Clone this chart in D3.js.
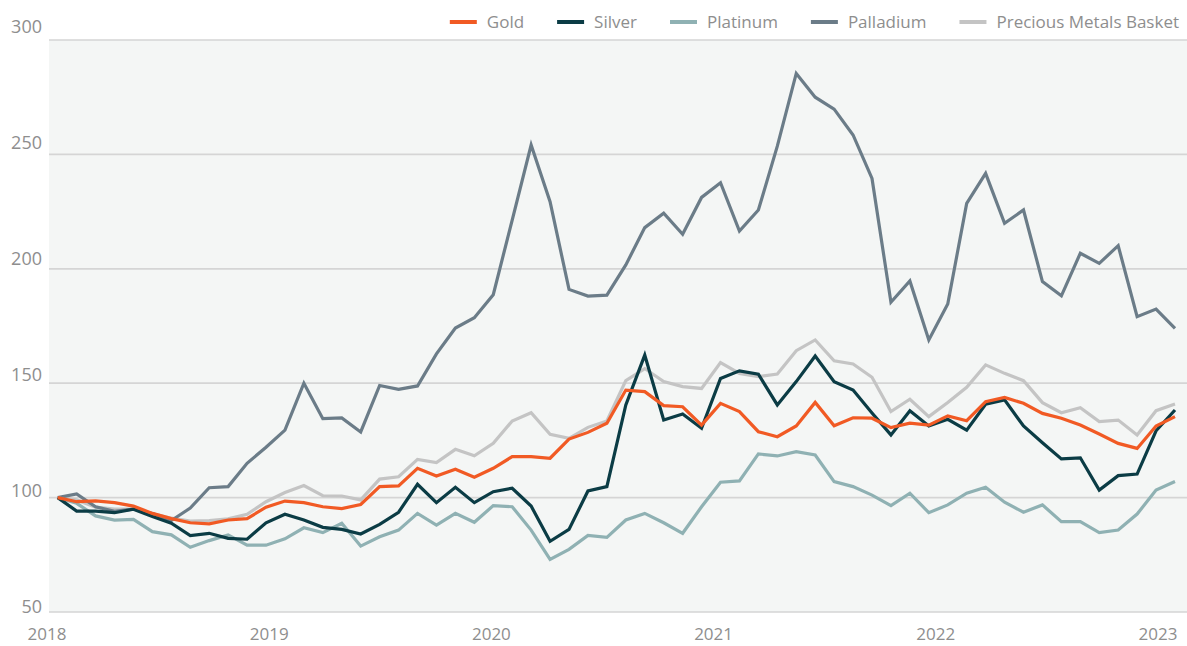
<!DOCTYPE html>
<html>
<head>
<meta charset="utf-8">
<script src="https://cdn.jsdelivr.net/npm/d3@7"></script>
<style>
  html, body { margin: 0; padding: 0; background: #ffffff; }
  svg { display: block; }
  text { font-family: "Open Sans", "Lato", sans-serif; fill: #8e8e8e; }
</style>
</head>
<body>
<svg id="chart" width="1187" height="646"></svg>
<script>
// ---- data ----
const seriesNames = ["Gold", "Silver", "Platinum", "Palladium", "Precious Metals Basket"];
const yearLabels = ["2018", "2019", "2020", "2021", "2022", "2023"];
const yTicks = [50, 100, 150, 200, 250, 300];

const gold = [100, 98.2, 98.6, 97.8, 96.3, 93.1, 90.8, 89.0, 88.5, 90.2, 90.8, 95.8, 98.5, 97.8, 96.0, 95.2, 97.0, 104.8, 105.1, 112.8, 109.4, 112.4, 108.9, 112.8, 117.9, 117.9, 117.2, 125.6, 128.5, 132.5, 147.0, 146.3, 140.2, 139.7, 131.7, 141.2, 137.6, 128.8, 126.6, 131.3, 141.6, 131.4, 134.9, 134.7, 130.6, 132.5, 131.7, 135.7, 133.6, 141.9, 143.8, 141.2, 136.8, 134.7, 131.7, 127.8, 123.7, 121.5, 131.3, 135.4];
const silver = [100, 94.1, 94.1, 93.4, 94.9, 91.7, 88.8, 83.4, 84.4, 82.2, 81.8, 89.0, 92.7, 90.2, 87.0, 86.1, 84.1, 88.3, 93.6, 105.8, 97.8, 104.5, 97.8, 102.6, 104.1, 96.3, 80.9, 86.1, 102.9, 104.8, 140.5, 162.3, 133.9, 136.5, 130.3, 152.1, 155.4, 153.9, 140.5, 150.7, 161.9, 150.7, 147.0, 137.0, 127.4, 138.0, 131.3, 134.2, 129.5, 140.8, 142.7, 131.3, 124.0, 116.9, 117.4, 103.3, 109.6, 110.3, 129.2, 138.3];
const platinum = [100, 97.5, 92.0, 90.2, 90.5, 85.1, 83.7, 78.3, 81.2, 83.7, 79.2, 79.2, 82.0, 86.8, 84.7, 88.8, 78.8, 82.9, 85.8, 93.1, 88.0, 93.1, 89.2, 96.5, 96.0, 85.8, 73.0, 77.4, 83.5, 82.6, 90.2, 93.1, 89.0, 84.4, 96.0, 106.7, 107.3, 119.1, 118.2, 120.1, 118.6, 107.0, 104.8, 101.1, 96.5, 101.9, 93.4, 96.8, 101.9, 104.5, 98.0, 93.6, 96.8, 89.5, 89.5, 84.7, 85.8, 92.8, 103.3, 107.0];
const palladium = [100, 101.6, 96.0, 94.0, 95.0, 93.0, 90.0, 95.4, 104.3, 104.8, 115.0, 122.0, 129.5, 150.0, 134.5, 134.8, 128.7, 149.0, 147.3, 148.8, 162.8, 174.1, 178.6, 188.7, 221.3, 254.1, 229.3, 191.0, 188.1, 188.5, 201.7, 218.0, 224.3, 215.1, 231.2, 237.6, 216.5, 225.7, 253.6, 285.4, 275.0, 269.8, 258.5, 239.5, 185.4, 194.7, 168.9, 184.6, 228.6, 241.7, 219.9, 225.7, 194.4, 188.2, 206.8, 202.4, 210.1, 179.1, 182.4, 174.0];
const basket = [100, 99.0, 95.8, 95.0, 95.0, 93.0, 91.0, 89.7, 90.0, 90.7, 92.7, 98.2, 102.2, 105.3, 100.8, 100.7, 99.0, 108.1, 109.1, 116.7, 115.3, 121.1, 118.3, 123.7, 133.5, 137.1, 127.7, 125.9, 130.7, 133.5, 151.1, 156.4, 150.7, 148.5, 147.7, 159.0, 154.3, 152.9, 154.0, 164.2, 168.9, 159.8, 158.4, 152.6, 137.6, 143.0, 135.4, 141.6, 148.2, 158.0, 154.3, 151.1, 141.5, 137.1, 139.3, 133.2, 133.9, 127.4, 138.0, 140.9];

const seriesValues = [gold, silver, platinum, palladium, basket];
const seriesColors = ["#f15a24", "#0b3c45", "#8fb1b3", "#6b7c88", "#c4c4c4"];

// ---- layout ----
const plot = { left: 49, right: 1187, top: 40, bottom: 612 };

const svg = d3.select("#chart");

const x = d3.scaleLinear().domain([0, gold.length - 1]).range([57.7, 1175]);
const y = d3.scaleLinear().domain([50, 300]).range([plot.bottom, plot.top]);
const yLabel = d3.scaleLinear().domain([50, 300]).range([613, 33]);
const xYear = d3.scalePoint().domain(yearLabels).range([47, 1158]);

// background
svg.append("rect")
  .attr("x", plot.left).attr("y", plot.top)
  .attr("width", plot.right - plot.left).attr("height", plot.bottom - plot.top)
  .attr("fill", "#f4f6f5");

// gridlines
svg.append("g").selectAll("line").data(yTicks).join("line")
  .attr("x1", plot.left).attr("x2", plot.right)
  .attr("y1", d => y(d)).attr("y2", d => y(d))
  .attr("stroke", "#d5d5d5").attr("stroke-width", 1.7);

// y labels
svg.append("g").selectAll("text").data(yTicks).join("text")
  .attr("x", 42).attr("y", d => yLabel(d))
  .attr("text-anchor", "end")
  .style("font-size", "18px")
  .text(d => d);

// x labels
svg.append("g").selectAll("text").data(yearLabels).join("text")
  .attr("x", d => xYear(d)).attr("y", 640)
  .attr("text-anchor", "middle")
  .style("font-size", "17px")
  .text(d => d);

// lines (draw basket first, gold last)
const line = d3.line().x((d, i) => x(i)).y(d => y(d));
const order = [4, 3, 2, 1, 0];
svg.append("g").selectAll("path").data(order).join("path")
  .attr("d", k => line(seriesValues[k]))
  .attr("fill", "none")
  .attr("stroke", k => seriesColors[k])
  .attr("stroke-width", 3.2)
  .attr("stroke-linejoin", "miter");

// legend (right aligned)
const legend = svg.append("g");
const items = [];
seriesNames.forEach((name, k) => {
  const g = legend.append("g");
  g.append("line").attr("x1", 0).attr("x2", 27).attr("y1", 0).attr("y2", 0)
    .attr("stroke", seriesColors[k]).attr("stroke-width", 4);
  const t = g.append("text").attr("x", 37).attr("y", 6)
    .style("font-size", "17px").text(name);
  items.push({ g, w: 37 + t.node().getComputedTextLength() });
});
let cursor = 1179;
for (let k = items.length - 1; k >= 0; k--) {
  cursor -= items[k].w;
  items[k].g.attr("transform", `translate(${cursor},22)`);
  cursor -= 33;
}
</script>
</body>
</html>
